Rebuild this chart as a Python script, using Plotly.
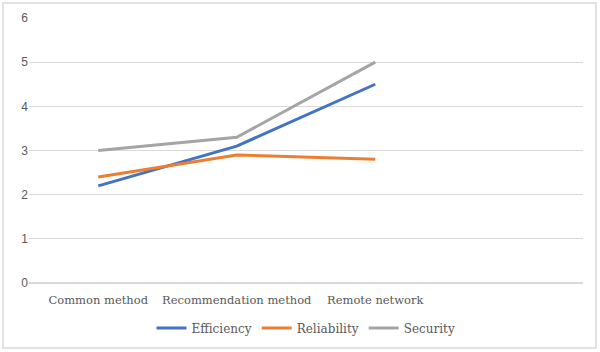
import plotly.graph_objects as go

categories = ["Common method", "Recommendation method", "Remote network", ""]
series_names = ["Efficiency", "Reliability", "Security"]
efficiency = [2.2, 3.1, 4.5]
reliability = [2.4, 2.9, 2.8]
security = [3.0, 3.3, 5.0]
y_ticks = [0, 1, 2, 3, 4, 5, 6]
colors = ["#4472C4", "#ED7D31", "#A5A5A5"]

W, H = 600, 352
L, R, T, B = 29, 17, 18, 69
SERIF = "DejaVu Serif"

fig = go.Figure()
for name, vals, c in zip(series_names, [efficiency, reliability, security], colors):
    fig.add_trace(go.Scatter(
        x=list(range(len(vals))), y=vals, name=name, mode="lines",
        line=dict(color=c, width=3),
    ))

pw, ph = W - L - R, H - T - B
fig.update_layout(
    width=W, height=H,
    margin=dict(l=L, r=R, t=T, b=B, autoexpand=False),
    paper_bgcolor="white", plot_bgcolor="white",
    showlegend=True,
    legend=dict(orientation="h", x=0.5, xanchor="center", y=(T + ph - 328) / ph, yanchor="middle",
                font=dict(family=SERIF, size=12, color="#595959"),
                itemwidth=30, tracegroupgap=0),
    xaxis=dict(range=[-0.5, len(categories) - 0.5], tickmode="array",
               tickvals=list(range(len(categories))), ticktext=categories,
               showgrid=False, zeroline=False, showline=False, ticks="",
               ticklabelstandoff=8, tickangle=0, automargin=False,
               tickfont=dict(family=SERIF, size=11.5, color="#595959")),
    yaxis=dict(range=[0, 6], tickvals=y_ticks, showgrid=True, gridcolor="#D9D9D9", gridwidth=1,
               zeroline=True, zerolinecolor="#D9D9D9", zerolinewidth=1.5, showline=False, ticks="",
               automargin=False,
               tickfont=dict(family="Liberation Sans", size=12, color="#595959")),
    shapes=[dict(type="rect", xref="paper", yref="paper",
                 x0=(3 - L) / pw, x1=(W - 4 - L) / pw,
                 y0=(T + ph - (H - 4)) / ph, y1=(T + ph - 3) / ph,
                 line=dict(color="#D9D9D9", width=1.5), layer="below")],
)
fig.write_html("out.html")
